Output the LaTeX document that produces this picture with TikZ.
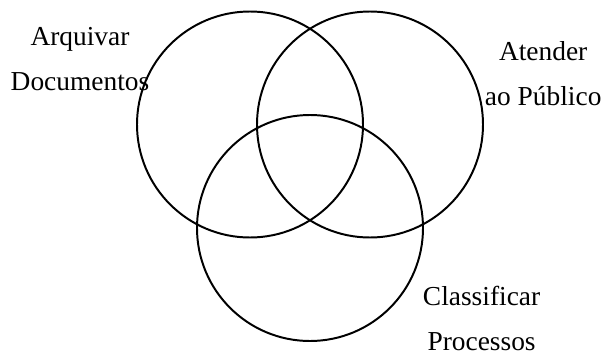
\documentclass[tikz,border=0pt]{standalone}
\usepackage{fontspec}
\setmainfont{Liberation Serif}
\begin{document}
\begin{tikzpicture}[
    area/.style={
      circle,
      draw=black,
      line width=1.4pt,
      minimum size=5.65cm,
      inner sep=0pt
    },
    rotulo/.style={
      align=center,
      anchor=base,
      inner sep=0pt,
      font=\fontsize{19.5}{32}\selectfont
    }
  ]
    \useasboundingbox (0,0) rectangle (15.15,8.85);
    \node[area] (arquivar) at (6.25,5.7375) {};
    \node[area] (atender) at (9.25,5.7375) {};
    \node[area] (classificar) at (7.75,3.15) {};
    \node[rotulo] (txtarq) at (2.0,6.6) {Arquivar\\Documentos};
    \node[rotulo] (txtate) at (13.58,6.225) {Atender\\ao Público};
    \node[rotulo] (txtcla) at (12.04,0.1) {Classificar\\Processos};
  \end{tikzpicture}
\end{document}
